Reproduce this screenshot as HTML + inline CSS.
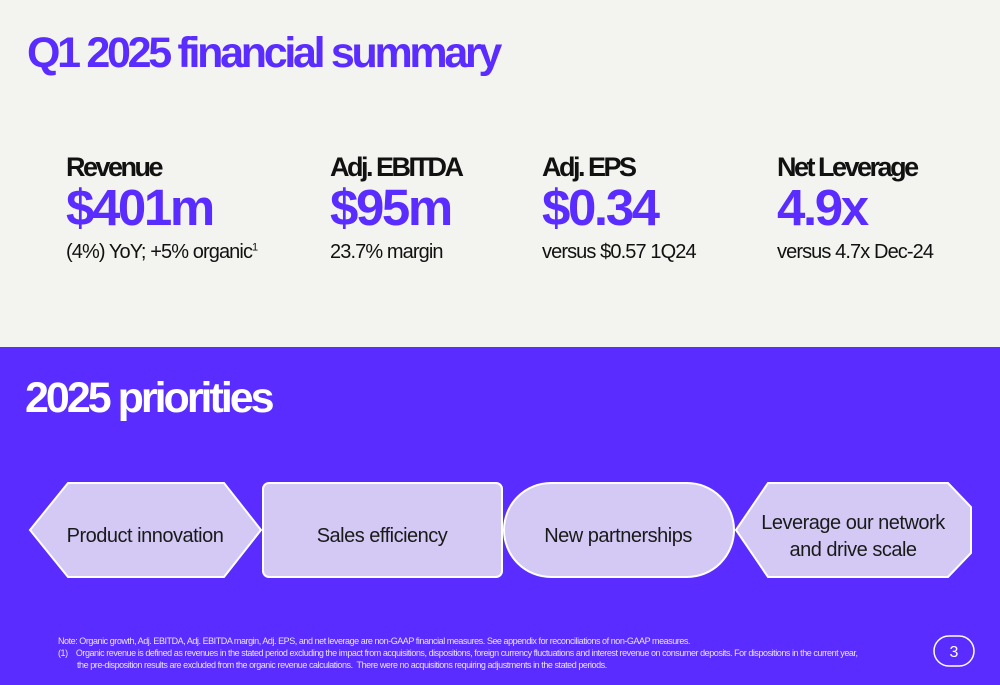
<!DOCTYPE html>
<html><head><meta charset="utf-8"><style>
*{margin:0;padding:0;box-sizing:border-box}
body{width:1000px;height:685px;overflow:hidden;font-family:"Liberation Sans",sans-serif;background:#f3f4ef;position:relative}
.abs{position:absolute;white-space:nowrap}
.title{left:27px;top:29px;font-size:43px;font-weight:bold;color:#5a2cff;letter-spacing:-3.3px}
.lab{font-size:27px;font-weight:bold;color:#111;letter-spacing:-2.5px}
.val{font-size:51px;font-weight:bold;color:#5a2cff;letter-spacing:-2.4px}
.sub{font-size:20px;color:#111;letter-spacing:-0.9px}
#bottom{position:absolute;left:0;top:347px;width:1000px;height:338px;background:#5a2cff}
.pri{left:25px;top:374px;font-size:43px;font-weight:bold;color:#fff;letter-spacing:-3px}
.note{left:58px;font-size:9px;color:#e8e2ff;letter-spacing:-0.45px}
</style></head><body>
<div class="abs title">Q1 2025 financial summary</div>

<div class="abs lab" style="left:66px;top:152px">Revenue</div>
<div class="abs val" style="left:66px;top:178px">$401m</div>
<div class="abs sub" style="left:66px;top:241px">(4%) YoY; +5% organic<sup style="font-size:11px">1</sup></div>

<div class="abs lab" style="left:330px;top:152px">Adj. EBITDA</div>
<div class="abs val" style="left:330px;top:178px">$95m</div>
<div class="abs sub" style="left:330px;top:241px">23.7% margin</div>

<div class="abs lab" style="left:542px;top:152px">Adj. EPS</div>
<div class="abs val" style="left:542px;top:178px">$0.34</div>
<div class="abs sub" style="left:542px;top:241px">versus $0.57 1Q24</div>

<div class="abs lab" style="left:777px;top:152px">Net Leverage</div>
<div class="abs val" style="left:777px;top:178px">4.9x</div>
<div class="abs sub" style="left:777px;top:241px">versus 4.7x Dec-24</div>

<div id="bottom"></div>
<div class="abs pri">2025 priorities</div>

<svg class="abs" style="left:0;top:0" width="1000" height="685">
<g fill="#d3c9f4" stroke="#ffffff" stroke-width="2">
<polygon points="30,530 68,483 224,483 261,530 224,577 68,577"/>
<rect x="263" y="483" width="239" height="94" rx="6"/>
<rect x="504" y="483" width="230" height="94" rx="47"/>
<polygon points="736,530 768,483 948,483 971,507 971,553 948,577 768,577"/>
</g>
<g font-family="Liberation Sans, sans-serif" font-size="20" fill="#1a1a1a" text-anchor="middle" letter-spacing="-0.5">
<text x="145" y="542">Product innovation</text>
<text x="382" y="542">Sales efficiency</text>
<text x="618" y="542">New partnerships</text>
<text x="853" y="529">Leverage our network</text>
<text x="853" y="556">and drive scale</text>
</g>
<rect x="934" y="636" width="40" height="30" rx="15" fill="none" stroke="#fff" stroke-width="1.5"/>
<text x="954" y="657" font-family="Liberation Sans, sans-serif" font-size="16" fill="#fff" text-anchor="middle">3</text>
</svg>

<div class="abs note" style="top:636px">Note: Organic growth, Adj. EBITDA, Adj. EBITDA margin, Adj. EPS, and net leverage are non-GAAP financial measures. See appendix for reconciliations of non-GAAP measures.</div>
<div class="abs note" style="top:648px">(1)&nbsp;&nbsp;&nbsp;&nbsp;Organic revenue is defined as revenues in the stated period excluding the impact from acquisitions, dispositions, foreign currency fluctuations and interest revenue on consumer deposits. For dispositions in the current year,</div>
<div class="abs note" style="top:660px;left:77px">the pre-disposition results are excluded from the organic revenue calculations.&nbsp; There were no acquisitions requiring adjustments in the stated periods.</div>
</body></html>
